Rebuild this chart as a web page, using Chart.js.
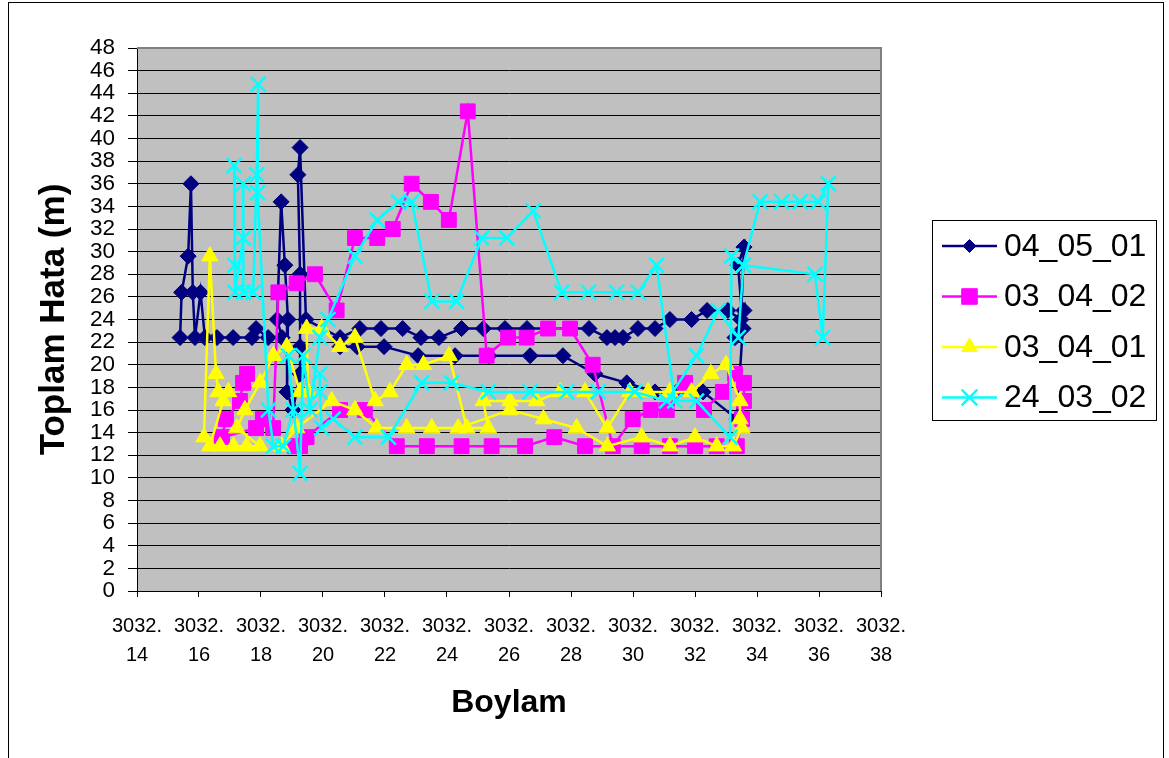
<!DOCTYPE html>
<html>
<head>
<meta charset="utf-8">
<title>Toplam Hata - Boylam</title>
<script src="https://cdn.jsdelivr.net/npm/chart.js@4.4.0/dist/chart.umd.min.js"></script>
<style>
  html, body { margin: 0; padding: 0; background: #fff; }
  canvas { display: block; }
</style>
</head>
<body>
<canvas id="c" width="1169" height="758"></canvas>
<script>
// Series names (legend order)
const seriesNames = ['04_05_01', '03_04_02', '03_04_01', '24_03_02'];

// 04_05_01 : longitude (Boylam) and total error (m)
const lon_04_05_01 = [
  3032.1539, 3032.1544, 3032.1565, 3032.1574, 3032.1580, 3032.1587, 3032.1605, 3032.1619, 3032.1658, 3032.1710,
  3032.1771, 3032.1784, 3032.1823, 3032.1868, 3032.1852, 3032.1865, 3032.1877, 3032.1887, 3032.1884, 3032.1903,
  3032.1926, 3032.1926, 3032.1926, 3032.1919, 3032.1926, 3032.1945, 3032.2055, 3032.2119, 3032.2187, 3032.2257,
  3032.2316, 3032.2374, 3032.2447, 3032.2517, 3032.2587, 3032.2658, 3032.2858, 3032.2916, 3032.2942, 3032.2968,
  3032.3016, 3032.3071, 3032.3119, 3032.3189, 3032.3239, 3032.3306, 3032.3348, 3032.3358, 3032.3339, 3032.3355,
  3032.3329, 3032.3358, 3032.3335, 3032.3226, 3032.3141, 3032.3071, 3032.2980, 3032.2877, 3032.2774, 3032.2668,
  3032.2535, 3032.2426, 3032.2307, 3032.2197, 3032.2110, 3032.2055
];
const err_04_05_01 = [
  22.4, 26.4, 29.6, 36.0, 26.4, 22.4, 26.4, 22.4, 22.4, 22.4,
  22.4, 23.2, 22.4, 22.4, 24.0, 34.4, 28.8, 24.0, 17.6, 16.0,
  19.2, 21.6, 28.0, 36.8, 39.2, 24.0, 22.4, 23.2, 23.2, 23.2,
  22.4, 22.4, 23.2, 23.2, 23.2, 23.2, 23.2, 22.4, 22.4, 22.4,
  23.2, 23.2, 24.0, 24.0, 24.8, 24.8, 24.0, 30.4, 28.8, 23.2,
  22.4, 24.8, 15.2, 17.6, 17.6, 17.6, 18.4, 19.2, 20.8, 20.8,
  20.8, 20.8, 20.8, 21.6, 21.6, 21.6
];

// 03_04_02
const lon_03_04_02 = [
  3032.1755, 3032.1742, 3032.1732, 3032.1687, 3032.1674, 3032.1784, 3032.1806, 3032.1839, 3032.1856, 3032.1915,
  3032.1974, 3032.2044, 3032.2103, 3032.2175, 3032.2225, 3032.2286, 3032.2348, 3032.2406, 3032.2467, 3032.2528,
  3032.2597, 3032.2657, 3032.2726, 3032.2797, 3032.2870, 3032.2935, 3032.2999, 3032.3057, 3032.3109, 3032.3168,
  3032.3229, 3032.3290, 3032.3329, 3032.3358, 3032.3358, 3032.3352, 3032.3335, 3032.3270, 3032.3200, 3032.3119,
  3032.3028, 3032.2845, 3032.2746, 3032.2652, 3032.2544, 3032.2447, 3032.2335, 3032.2238, 3032.2135, 3032.2055,
  3032.1947, 3032.1926, 3032.1910
];
const err_03_04_02 = [
  19.2, 18.4, 16.8, 15.2, 13.6, 14.4, 15.2, 14.4, 26.4, 27.2,
  28.0, 24.8, 31.2, 31.2, 32.0, 36.0, 34.4, 32.8, 42.4, 20.8,
  22.4, 22.4, 23.2, 23.2, 20.0, 12.8, 15.2, 16.0, 16.0, 18.4,
  16.0, 17.6, 19.2, 18.4, 16.8, 15.2, 12.8, 12.8, 12.8, 12.8,
  12.8, 12.8, 13.6, 12.8, 12.8, 12.8, 12.8, 12.8, 16.0, 16.0,
  13.6, 12.8, 12.8
];

// 03_04_01
const lon_03_04_01 = [
  3032.1616, 3032.1635, 3032.1655, 3032.1662, 3032.1695, 3032.1678, 3032.1635, 3032.1668, 3032.1711, 3032.1754,
  3032.1797, 3032.1722, 3032.1748, 3032.1797, 3032.1840, 3032.1883, 3032.1926, 3032.1952, 3032.1947, 3032.1996,
  3032.2055, 3032.2103, 3032.2168, 3032.2216, 3032.2270, 3032.2324, 3032.2407, 3032.2464, 3032.2533, 3032.2517,
  3032.2603, 3032.2689, 3032.2765, 3032.2845, 3032.2917, 3032.2990, 3032.3049, 3032.3119, 3032.3189, 3032.3251,
  3032.3300, 3032.3345, 3032.3345, 3032.3351, 3032.3324, 3032.3270, 3032.3200, 3032.3119, 3032.3028, 3032.2917,
  3032.2818, 3032.2711, 3032.2603, 3032.2436, 3032.2351, 3032.2270, 3032.2173, 3032.2103, 3032.2028, 3032.1915,
  3032.1867
];
const err_03_04_01 = [
  13.6, 29.6, 19.2, 17.6, 17.6, 16.8, 12.8, 12.8, 12.8, 12.8,
  12.8, 14.4, 16.0, 18.4, 20.8, 21.6, 17.6, 17.6, 23.2, 23.2,
  21.6, 22.4, 16.8, 17.6, 20.0, 20.0, 20.8, 14.4, 14.4, 16.8,
  16.8, 16.8, 17.6, 17.6, 14.4, 17.6, 17.6, 17.6, 17.6, 19.2,
  20.0, 16.8, 15.2, 14.4, 12.8, 12.8, 13.6, 12.8, 13.6, 12.8,
  14.4, 15.2, 16.0, 14.4, 14.4, 14.4, 14.4, 16.0, 16.8, 14.4,
  12.8
];

// 24_03_02
const lon_24_03_02 = [
  3032.1713, 3032.1716, 3032.1716, 3032.1743, 3032.1743, 3032.1743, 3032.1775, 3032.1786, 3032.1791, 3032.1789,
  3032.1824, 3032.1840, 3032.1872, 3032.1904, 3032.1888, 3032.1926, 3032.1936, 3032.1958, 3032.1990, 3032.2016,
  3032.2103, 3032.2175, 3032.2243, 3032.2286, 3032.2351, 3032.2431, 3032.2512, 3032.2593, 3032.2678, 3032.2770,
  3032.2856, 3032.2947, 3032.3017, 3032.3076, 3032.3135, 3032.3205, 3032.3313, 3032.3318, 3032.3356, 3032.3410,
  3032.3480, 3032.3539, 3032.3598, 3032.3630, 3032.3612, 3032.3587, 3032.3356, 3032.3340, 3032.3275, 3032.3205,
  3032.3109, 3032.3006, 3032.2888, 3032.2786, 3032.2668, 3032.2533, 3032.2415, 3032.2318, 3032.2211, 3032.2103,
  3032.2033, 3032.1996, 3032.1990, 3032.1990
];
const err_24_03_02 = [
  37.6, 28.8, 26.4, 31.2, 36.0, 26.4, 26.4, 36.8, 44.8, 35.2,
  16.0, 12.8, 12.8, 16.0, 20.8, 10.4, 20.8, 16.0, 22.4, 24.0,
  29.6, 32.8, 34.4, 34.4, 25.6, 25.6, 31.2, 31.2, 33.6, 26.4,
  26.4, 26.4, 26.4, 28.8, 16.8, 16.8, 13.6, 29.6, 28.8, 34.4,
  34.4, 34.4, 34.4, 36.0, 22.4, 28.0, 28.8, 22.4, 24.8, 20.8,
  16.8, 17.6, 17.6, 17.6, 17.6, 17.6, 18.4, 18.4, 13.6, 13.6,
  15.2, 14.4, 17.6, 19.2
];

// Axis tick values
const xTickValues = [3032.14, 3032.16, 3032.18, 3032.20, 3032.22, 3032.24, 3032.26,
                     3032.28, 3032.30, 3032.32, 3032.34, 3032.36, 3032.38];
const yTickValues = [0, 2, 4, 6, 8, 10, 12, 14, 16, 18, 20, 22, 24,
                     26, 28, 30, 32, 34, 36, 38, 40, 42, 44, 46, 48];

const FONT = '"Liberation Sans", Arial, Helvetica, sans-serif';
Chart.defaults.font.family = FONT;
Chart.defaults.color = '#000';

const toPoints = (lon, err) => lon.map((x, i) => ({ x: x, y: err[i] }));

function series(label, lon, err, color, style, radius, order) {
  return {
    label: label,
    data: toPoints(lon, err),
    showLine: true,
    borderColor: color,
    backgroundColor: color,
    borderWidth: 2.5,
    tension: 0,
    pointStyle: style,
    pointRadius: radius,
    pointHoverRadius: radius,
    pointBackgroundColor: color,
    pointBorderColor: color,
    pointBorderWidth: style === 'crossRot' ? 2.5 : 1,
    order: order
  };
}

// Marker used in the legend box
function drawMarker(ctx, style, x, y, r, color) {
  ctx.save();
  ctx.fillStyle = color;
  ctx.strokeStyle = color;
  ctx.lineWidth = style === 'crossRot' ? 2.5 : 1;
  ctx.beginPath();
  if (style === 'rectRot') {
    ctx.moveTo(x - r, y); ctx.lineTo(x, y - r); ctx.lineTo(x + r, y); ctx.lineTo(x, y + r);
    ctx.closePath(); ctx.fill(); ctx.stroke();
  } else if (style === 'rect') {
    const s = r * Math.SQRT1_2;
    ctx.rect(x - s, y - s, 2 * s, 2 * s); ctx.fill(); ctx.stroke();
  } else if (style === 'triangle') {
    ctx.moveTo(x, y - r);
    ctx.lineTo(x + r * Math.sin(2 * Math.PI / 3), y - r * Math.cos(2 * Math.PI / 3));
    ctx.lineTo(x + r * Math.sin(4 * Math.PI / 3), y - r * Math.cos(4 * Math.PI / 3));
    ctx.closePath(); ctx.fill(); ctx.stroke();
  } else if (style === 'crossRot') {
    const d = r * Math.SQRT1_2;
    ctx.moveTo(x - d, y - d); ctx.lineTo(x + d, y + d);
    ctx.moveTo(x + d, y - d); ctx.lineTo(x - d, y + d);
    ctx.stroke();
  }
  ctx.restore();
}

const framePlugin = {
  id: 'frame',
  beforeDraw(chart) {
    const { ctx, chartArea: a } = chart;
    ctx.save();
    ctx.fillStyle = '#fff';
    ctx.fillRect(0, 0, chart.width, chart.height);
    ctx.strokeStyle = '#000';
    ctx.lineWidth = 1;
    ctx.strokeRect(8.5, 2.5, 1155, 800);
    ctx.fillStyle = '#C0C0C0';
    ctx.fillRect(a.left, a.top, a.right - a.left, a.bottom - a.top);
    ctx.restore();
  },
  beforeDatasetsDraw(chart) {
    const { ctx, chartArea: a } = chart;
    ctx.save();
    ctx.strokeStyle = '#808080';
    ctx.lineWidth = 2;
    ctx.beginPath();
    ctx.moveTo(a.left, a.top);
    ctx.lineTo(a.right, a.top);
    ctx.lineTo(a.right, a.bottom);
    ctx.stroke();
    ctx.restore();
  },
  afterDraw(chart) {
    const ctx = chart.ctx;
    const box = { x: 932, y: 220, w: 225, h: 201 };
    ctx.save();
    ctx.fillStyle = '#fff';
    ctx.fillRect(box.x, box.y, box.w, box.h);
    ctx.strokeStyle = '#000';
    ctx.lineWidth = 1;
    ctx.strokeRect(box.x + 0.5, box.y + 0.5, box.w - 1, box.h - 1);
    const legendSizes = { rectRot: 6.5, rect: 11, triangle: 9, crossRot: 11 };
    chart.data.datasets.forEach((ds, i) => {
      const cy = box.y + 26 + i * 50.5;
      ctx.strokeStyle = ds.borderColor;
      ctx.lineWidth = 2.5;
      ctx.beginPath();
      ctx.moveTo(942, cy);
      ctx.lineTo(997, cy);
      ctx.stroke();
      drawMarker(ctx, ds.pointStyle, 969.5, cy, legendSizes[ds.pointStyle], ds.borderColor);
      ctx.fillStyle = '#000';
      ctx.font = '32px ' + FONT;
      ctx.textAlign = 'left';
      ctx.textBaseline = 'middle';
      ctx.fillText(ds.label, 1004, cy + 1);
    });
    ctx.restore();
  }
};

new Chart(document.getElementById('c'), {
  type: 'scatter',
  data: {
    datasets: [
      series(seriesNames[0], lon_04_05_01, err_04_05_01, '#000080', 'rectRot', 8, 4),
      series(seriesNames[1], lon_03_04_02, err_03_04_02, '#FF00FF', 'rect', 10.5, 3),
      series(seriesNames[2], lon_03_04_01, err_03_04_01, '#FFFF00', 'triangle', 9.5, 2),
      series(seriesNames[3], lon_24_03_02, err_24_03_02, '#00FFFF', 'crossRot', 10.5, 1)
    ]
  },
  options: {
    responsive: false,
    animation: false,
    devicePixelRatio: 1,
    layout: { padding: { left: 0, top: 48, right: 288, bottom: 0 } },
    plugins: {
      legend: { display: false },
      tooltip: { enabled: false }
    },
    scales: {
      x: {
        type: 'linear',
        min: 3032.14,
        max: 3032.38,
        afterBuildTicks: (s) => { s.ticks = xTickValues.map(v => ({ value: v })); },
        afterFit: (s) => { s.height = 167; },
        grid: { display: true, drawOnChartArea: false, drawTicks: true, tickLength: 6, color: '#000', lineWidth: 1 },
        border: { display: true, color: '#000', width: 1 },
        ticks: {
          autoSkip: false,
          maxRotation: 0,
          minRotation: 0,
          padding: 14.5,
          color: '#000',
          font: { size: 20, lineHeight: 1.45 },
          callback: (v) => {
            const parts = Number(v).toFixed(2).split('.');
            return [parts[0] + '.', parts[1]];
          }
        },
        title: {
          display: true,
          text: 'Boylam',
          color: '#000',
          font: { size: 32, weight: 'bold', lineHeight: 1.2 },
          padding: { top: 0, bottom: 36 }
        }
      },
      y: {
        type: 'linear',
        min: 0,
        max: 48,
        afterBuildTicks: (s) => { s.ticks = yTickValues.map(v => ({ value: v })); },
        afterFit: (s) => { s.width = 137; },
        grid: { display: true, drawTicks: true, tickLength: 9, color: '#000', lineWidth: 1 },
        border: { display: true, color: '#000', width: 1 },
        ticks: {
          autoSkip: false,
          padding: 13,
          color: '#000',
          font: { size: 22.5, lineHeight: 1.0 }
        },
        title: {
          display: true,
          text: 'Toplam Hata (m)',
          color: '#000',
          font: { size: 35, weight: 'bold', lineHeight: 1.2 },
          padding: { top: 33, bottom: 0 }
        }
      }
    }
  },
  plugins: [framePlugin]
});
</script>
</body>
</html>
